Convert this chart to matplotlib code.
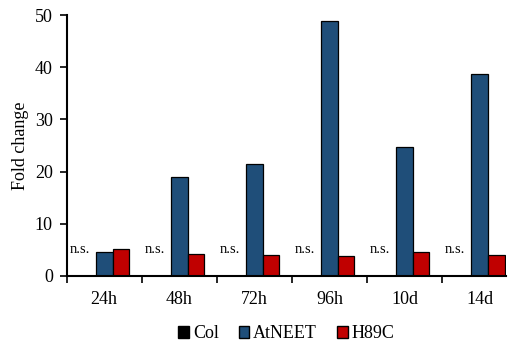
import numpy as np
import matplotlib.pyplot as plt
from matplotlib.patches import Patch

plt.rcParams['font.family'] = ['Liberation Serif', 'DejaVu Serif']

times = ['24h', '48h', '72h', '96h', '10d', '14d']
col_vals = [0, 0, 0, 0, 0, 0]
atneet_vals = [4.5, 18.9, 21.5, 48.8, 24.8, 38.7]
h89c_vals = [5.1, 4.2, 4.0, 3.8, 4.5, 4.0]
sig_labels = ['n.s.'] * 6

colors = ['#000000', '#1f4e79', '#c00000']
names = ['Col', 'AtNEET', 'H89C']

fig = plt.figure(figsize=(5.13, 3.44), dpi=100)
ax = fig.add_axes([0.130, 0.198, 0.856, 0.758])

x = np.arange(len(times))
w = 0.222
for i, (vals, c) in enumerate(zip([col_vals, atneet_vals, h89c_vals], colors)):
    ax.bar(x + (i - 1) * w, vals, w, color=c, edgecolor='black', linewidth=0.9)

for xi, lab in zip(x, sig_labels):
    ax.text(xi - 0.33, 5.0, lab, ha='center', va='center', fontsize=10.5)

ax.set_xlim(-0.5, 5.35)
ax.set_ylim(0, 50)
ax.set_yticks([0, 10, 20, 30, 40, 50])
ax.set_xticks(x)
ax.set_xticklabels(times, fontsize=13)
ax.set_xticks(np.arange(len(times)) - 0.5, minor=True)
ax.tick_params(axis='x', which='major', length=0, pad=11)
ax.tick_params(axis='x', which='minor', length=5, width=1.2, direction='out')
ax.tick_params(axis='y', labelsize=13, length=5, width=1.2, pad=5)
ax.set_ylabel('Fold change', fontsize=13, labelpad=4)
for s in ['top', 'right']:
    ax.spines[s].set_visible(False)
for s in ['left', 'bottom']:
    ax.spines[s].set_linewidth(1.5)

handles = [Patch(facecolor=c, edgecolor='black', label=n) for c, n in zip(colors, names)]
fig.legend(handles=handles, loc='center', bbox_to_anchor=(0.558, 0.03), ncol=3,
           frameon=False, fontsize=13, handlelength=0.6, handleheight=0.6,
           handletextpad=0.2, columnspacing=1.1)

fig.savefig('out.png', dpi=100)
